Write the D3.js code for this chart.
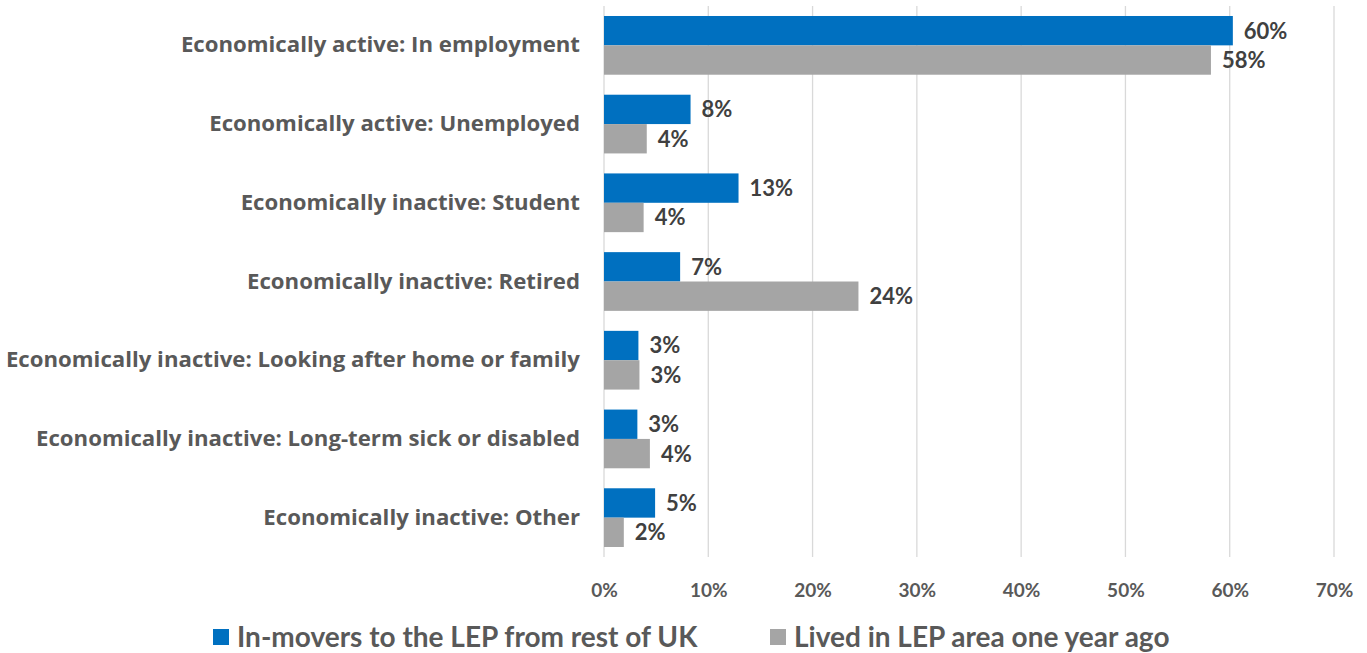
<!DOCTYPE html>
<html>
<head>
<meta charset="utf-8">
<script src="https://cdn.jsdelivr.net/npm/d3@7"></script>
<style>
  html, body { margin: 0; padding: 0; background: #ffffff; }
  svg { display: block; font-family: Lato, "Open Sans", sans-serif; font-weight: 700; }
</style>
</head>
<body>
<svg id="chart" width="1367" height="653"></svg>
<script>
// Economic activity categories, top to bottom
const categories = [
  "Economically active: In employment",
  "Economically active: Unemployed",
  "Economically inactive: Student",
  "Economically inactive: Retired",
  "Economically inactive: Looking after home or family",
  "Economically inactive: Long-term sick or disabled",
  "Economically inactive: Other"
];

const seriesNames = [
  "In-movers to the LEP from rest of UK",
  "Lived in LEP area one year ago"
];

// Shares of people (fraction of total)
const inMovers   = [0.603, 0.083, 0.129, 0.073, 0.033, 0.032, 0.049];
const livedInLep = [0.582, 0.041, 0.038, 0.244, 0.034, 0.044, 0.019];

const xTicks = [0, 0.1, 0.2, 0.3, 0.4, 0.5, 0.6, 0.7];

const colors = ["#0070C0", "#A5A5A5"];

const svg = d3.select("#chart");

const plot = { left: 604, right: 1334, top: 6, bottom: 557 };

const x = d3.scaleLinear().domain([0, 0.7]).range([plot.left, plot.right]);
const y0 = d3.scaleBand().domain(categories).range([plot.top, plot.bottom]).padding(0);
const bw = y0.bandwidth();
const y1 = d3.scaleBand().domain(seriesNames)
  .range([bw * 0.127, bw * 0.873]).padding(0);

// Vertical gridlines
svg.append("g")
  .selectAll("line")
  .data(xTicks)
  .join("line")
  .attr("x1", d => x(d)).attr("x2", d => x(d))
  .attr("y1", plot.top).attr("y2", plot.bottom)
  .attr("stroke", "#d9d9d9").attr("stroke-width", 1.3);

// X axis tick labels
const xAxis = d3.axisBottom(x).tickValues(xTicks).tickFormat(d3.format(".0%")).tickSize(0).tickPadding(0);
const gx = svg.append("g").attr("transform", `translate(0, ${plot.bottom + 40})`).call(xAxis);
gx.select(".domain").remove();
gx.selectAll("text")
  .attr("dy", 0)
  .attr("fill", "#595959")
  .style("font-family", "Lato, sans-serif")
  .style("font-weight", 700)
  .style("font-size", "19px");

// Category labels
const yAxis = d3.axisLeft(y0).tickSize(0).tickPadding(24);
const gy = svg.append("g").attr("transform", `translate(${plot.left}, 0)`).call(yAxis);
gy.select(".domain").remove();
gy.selectAll("text")
  .attr("fill", "#595959")
  .style("font-family", "'Open Sans', sans-serif")
  .style("font-weight", 700)
  .style("font-size", "22.2px");

const seriesData = [inMovers, livedInLep];

const rows = [];
categories.forEach((c, i) => {
  seriesNames.forEach((s, j) => {
    rows.push({ cat: c, series: s, idx: j, value: seriesData[j][i] });
  });
});

const bars = svg.append("g");
bars.selectAll("rect")
  .data(rows)
  .join("rect")
  .attr("x", x(0))
  .attr("y", d => y0(d.cat) + y1(d.series))
  .attr("width", d => x(d.value) - x(0))
  .attr("height", y1.bandwidth())
  .attr("fill", d => colors[d.idx]);

// Value labels
svg.append("g")
  .selectAll("text")
  .data(rows)
  .join("text")
  .attr("x", d => x(d.value) + 11)
  .attr("y", d => y0(d.cat) + y1(d.series) + y1.bandwidth() / 2)
  .attr("dy", "0.36em")
  .attr("fill", "#404040")
  .style("font-size", "22px")
  .text(d => d3.format(".0%")(d.value));

// Legend
const legend = svg.append("g").attr("transform", "translate(0, 637)");
const legendX = [213, 770];
seriesNames.forEach((s, j) => {
  legend.append("rect")
    .attr("x", legendX[j]).attr("y", -8)
    .attr("width", 16).attr("height", 16)
    .attr("fill", colors[j]);
  legend.append("text")
    .attr("x", legendX[j] + 24).attr("y", 0)
    .attr("dy", "0.36em")
    .attr("fill", "#595959")
    .style("font-size", "28px")
    .text(s);
});
</script>
</body>
</html>
